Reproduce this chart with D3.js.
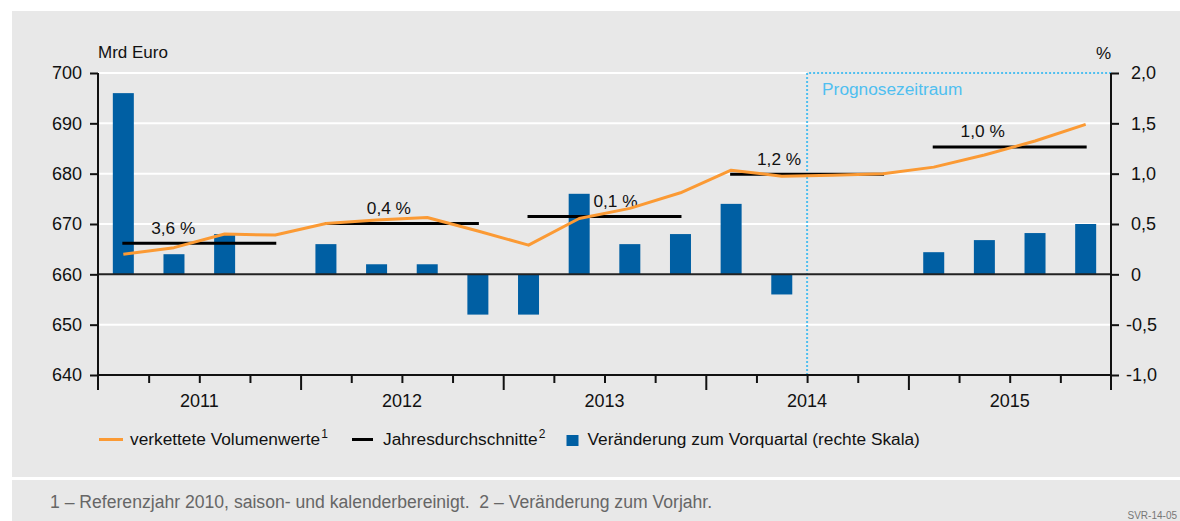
<!DOCTYPE html>
<html>
<head>
<meta charset="utf-8">
<script src="https://cdn.jsdelivr.net/npm/d3@7"></script>
<style>
  body { margin: 0; background: #fff; }
  svg { display: block; font-family: "Liberation Sans", Arial, sans-serif; }
</style>
</head>
<body>
<svg id="chart" width="1180" height="521"></svg>
<script>
// quarters 2011 Q1 .. 2015 Q4
const years = [2011, 2012, 2013, 2014, 2015]
const quarters = years.flatMap(y => [1, 2, 3, 4].map(q => y + "Q" + q))

// verkettete Volumenwerte, Mrd Euro (linke Skala)
const volume = [664.0, 665.3, 668.0, 667.8, 670.1, 670.8, 671.3, 668.6, 665.8, 671.1,
                673.1, 676.2, 680.7, 679.5, 679.7, 680.0, 681.3, 683.7, 686.5, 689.8]
// Veränderung zum Vorquartal, % (rechte Skala)
const change = [1.8, 0.2, 0.4, 0.0, 0.3, 0.1, 0.1, -0.4, -0.4, 0.8,
                0.3, 0.4, 0.7, -0.2, 0.0, 0.0, 0.22, 0.34, 0.41, 0.5]
// Jahresdurchschnitte, Mrd Euro
const annualAvg = [666.2, 670.1, 671.5, 679.9, 685.3]
const annualLabels = ["3,6 %", "0,4 %", "0,1 %", "1,2 %", "1,0 %"]

const leftTicks = [640, 650, 660, 670, 680, 690, 700]
const rightTicks = [-1.0, -0.5, 0, 0.5, 1.0, 1.5, 2.0]
const forecastStart = "2014Q3"

// layout
const X0 = 98, X1 = 1111, Y0 = 73, Y1 = 375
const labelDx = [-26, -13, 11, -28, -27]
const blue = "#005fa3", orange = "#fb9a34", cyan = "#4fbff0"

const svg = d3.select("#chart")

svg.append("rect").attr("x", 12).attr("y", 11).attr("width", 1168).attr("height", 466).attr("fill", "#e8e8e8")
svg.append("rect").attr("x", 12).attr("y", 480).attr("width", 1168).attr("height", 41).attr("fill", "#e8e8e8")

const x = d3.scaleBand().domain(quarters).range([X0, X1])
const xYear = d3.scaleBand().domain(years).range([X0, X1])
const yL = d3.scaleLinear().domain([640, 700]).range([Y1, Y0])
const yR = d3.scaleLinear().domain([-1, 2]).range([Y1, Y0])
const cx = q => x(q) + x.bandwidth() / 2
const xF = x(forecastStart)

// gridlines
svg.append("g").selectAll("line")
  .data(leftTicks.filter(d => d !== 640 && d !== 660))
  .join("line")
    .attr("x1", X0).attr("x2", d => d === 700 ? xF : X1)
    .attr("y1", d => yL(d)).attr("y2", d => yL(d))
    .attr("stroke", "#fff").attr("stroke-width", 2)

// forecast frame
svg.append("path")
  .attr("d", `M${xF},${Y1}V${Y0}H${X1}`)
  .attr("fill", "none").attr("stroke", cyan).attr("stroke-width", 2)
  .attr("stroke-dasharray", "2,2")
svg.append("text").attr("x", xF + 15).attr("y", 95)
  .attr("fill", cyan).style("font-size", "17.3px").text("Prognosezeitraum")

// bars
const bw = 21
svg.append("g").selectAll("rect")
  .data(change)
  .join("rect")
    .attr("x", (d, i) => cx(quarters[i]) - bw / 2)
    .attr("width", bw)
    .attr("y", d => yR(Math.max(0, d)))
    .attr("height", d => Math.abs(yR(d) - yR(0)))
    .attr("fill", blue)

// zero line
svg.append("line").attr("x1", X0).attr("x2", X1).attr("y1", yL(660)).attr("y2", yL(660))
  .attr("stroke", "#222").attr("stroke-width", 2)

// annual averages
const avg = svg.append("g")
avg.selectAll("line")
  .data(annualAvg)
  .join("line")
    .attr("x1", (d, i) => cx(years[i] + "Q1") - 1)
    .attr("x2", (d, i) => cx(years[i] + "Q4") + 1)
    .attr("y1", d => yL(d)).attr("y2", d => yL(d))
    .attr("stroke", "#000").attr("stroke-width", 3)
avg.selectAll("text")
  .data(annualAvg)
  .join("text")
    .attr("x", (d, i) => xYear(years[i]) + xYear.bandwidth() / 2 + labelDx[i])
    .attr("y", d => yL(d) - 9.5)
    .attr("text-anchor", "middle")
    .style("font-size", "17.3px").attr("fill", "#111")
    .text((d, i) => annualLabels[i])

// volume line
const line = d3.line().x((d, i) => cx(quarters[i])).y(d => yL(d))
svg.append("path").datum(volume)
  .attr("d", line).attr("fill", "none")
  .attr("stroke", orange).attr("stroke-width", 3).attr("stroke-linejoin", "round")

// axes
const fmtR = v => v === 0 ? "0" : d3.format(".1f")(v).replace(".", ",").replace("\u2212", "-")

const gL = svg.append("g").attr("transform", `translate(${X0},0)`)
  .call(d3.axisLeft(yL).tickValues(leftTicks).tickSize(8).tickPadding(8).tickSizeOuter(0))
const gR = svg.append("g").attr("transform", `translate(${X1},0)`)
  .call(d3.axisRight(yR).tickValues(rightTicks).tickSize(8).tickPadding(12).tickSizeOuter(0).tickFormat(fmtR))
gR.selectAll("text").attr("dx", d => d < 0 ? -5 : 0)

const xq = d3.scaleLinear().domain([0, quarters.length]).range([X0, X1])
const gX = svg.append("g").attr("transform", `translate(0,${Y1})`)
  .call(d3.axisBottom(xq).tickValues(d3.range(1, quarters.length)).tickSize(8).tickFormat("").tickSizeOuter(0))
gX.selectAll(".tick line").attr("y2", d => d % 4 === 0 ? 15 : 8)
const gY = svg.append("g").attr("transform", `translate(0,${Y1})`)
  .call(d3.axisBottom(xYear).tickSize(0).tickPadding(19))
gY.select(".domain").remove()

for (const g of [gL, gR, gX]) {
  g.select(".domain").remove()
  g.selectAll(".tick line").attr("stroke", "#111").attr("stroke-width", 2)
}
for (const g of [gL, gR, gY]) {
  g.selectAll("text").style("font-size", "18px").attr("fill", "#111").style("font-family", "Liberation Sans, Arial, sans-serif")
}

// axis lines
svg.append("path")
  .attr("d", `M${X0},${Y0}V390M${X1},${Y0}V390M${X0},${Y1}H${X1}`)
  .attr("fill", "none").attr("stroke", "#111").attr("stroke-width", 2)

// units
svg.append("text").attr("x", X0).attr("y", 58).style("font-size", "17px").attr("fill", "#111").text("Mrd Euro")
svg.append("text").attr("x", X1).attr("y", 59).attr("text-anchor", "end").style("font-size", "17px").attr("fill", "#111").text("%")

// legend
const lg = svg.append("g").attr("transform", "translate(0,445)")
function legendText(lx, label, sup) {
  const t = lg.append("text").attr("x", lx).style("font-size", "17.3px").attr("fill", "#111")
  t.append("tspan").text(label)
  if (sup) t.append("tspan").attr("dx", 1).attr("dy", -7).style("font-size", "12px").text(sup)
}
lg.append("line").attr("x1", 99).attr("x2", 123).attr("y1", -5.5).attr("y2", -5.5).attr("stroke", orange).attr("stroke-width", 3)
legendText(130, "verkettete Volumenwerte", "1")
lg.append("line").attr("x1", 352).attr("x2", 373).attr("y1", -5.5).attr("y2", -5.5).attr("stroke", "#000").attr("stroke-width", 3)
legendText(383, "Jahresdurchschnitte", "2")
lg.append("rect").attr("x", 566.5).attr("y", -10).attr("width", 12).attr("height", 11).attr("fill", blue)
legendText(587.5, "Veränderung zum Vorquartal (rechte Skala)")

// footnote
svg.append("text").attr("x", 50).attr("y", 508).style("font-size", "17.6px").attr("fill", "#666")
  .style("white-space", "pre")
  .text("1 – Referenzjahr 2010, saison- und kalenderbereinigt.  2 – Veränderung zum Vorjahr.")
svg.append("text").attr("x", 1177).attr("y", 519).attr("text-anchor", "end").style("font-size", "10px").attr("fill", "#777")
  .text("SVR-14-05")
</script>
</body>
</html>
